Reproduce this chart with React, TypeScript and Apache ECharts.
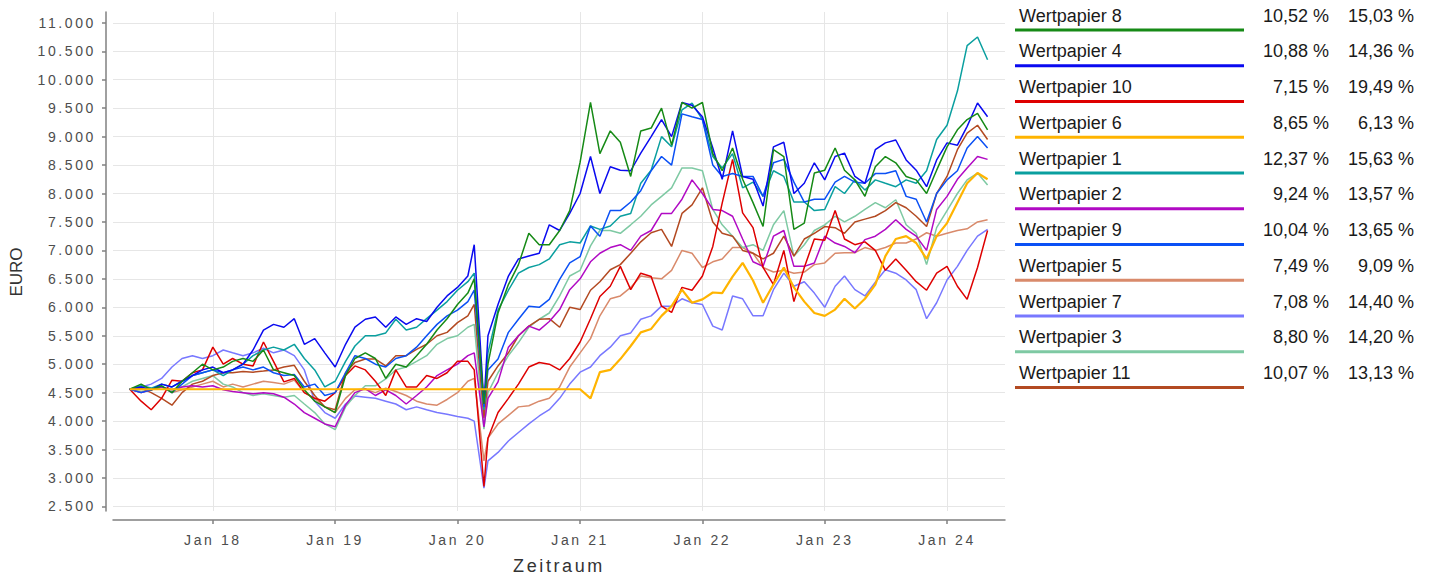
import React, { useEffect, useRef } from "react";
import * as echarts from "echarts";

// ---------- data ----------
const DATES = [
  "2017-04-28", "2017-06-01", "2017-07-01", "2017-08-01", "2017-09-01", "2017-10-01", "2017-11-01", "2017-12-01",
  "2018-01-01", "2018-02-01", "2018-03-01", "2018-04-01", "2018-05-01", "2018-06-01", "2018-07-01", "2018-08-01", "2018-09-01", "2018-10-01", "2018-11-01", "2018-12-01",
  "2019-01-01", "2019-02-01", "2019-03-01", "2019-04-01", "2019-05-01", "2019-06-01", "2019-07-01", "2019-08-01", "2019-09-01", "2019-10-01", "2019-11-01", "2019-12-01",
  "2020-01-01", "2020-02-01", "2020-02-20", "2020-03-20", "2020-04-01", "2020-05-01", "2020-06-01", "2020-07-01", "2020-08-01", "2020-09-01", "2020-10-01", "2020-11-01", "2020-12-01",
  "2021-01-01", "2021-02-01", "2021-03-01", "2021-04-01", "2021-05-01", "2021-06-01", "2021-07-01", "2021-08-01", "2021-09-01", "2021-10-01", "2021-11-01", "2021-12-01",
  "2022-01-01", "2022-02-01", "2022-03-01", "2022-04-01", "2022-05-01", "2022-06-01", "2022-07-01", "2022-08-01", "2022-09-01", "2022-10-01", "2022-11-01", "2022-12-01",
  "2023-01-01", "2023-02-01", "2023-03-01", "2023-04-01", "2023-05-01", "2023-06-01", "2023-07-01", "2023-08-01", "2023-09-01", "2023-10-01", "2023-11-01", "2023-12-01",
  "2024-01-01", "2024-02-01", "2024-03-01", "2024-04-01", "2024-05-01",
];

const W1 = [
  4560, 4620, 4580, 4650, 4600, 4700, 4800, 4850,
  4900, 4800, 4900, 5000, 5150, 5250, 5300, 5250, 5350, 5100, 4900, 4600,
  4700, 5050, 5320, 5500, 5500, 5550, 5790, 5600, 5650, 5800, 5950, 6100,
  6300, 6450, 6600, 4200, 5200, 5950, 6300, 6600, 6700, 6750, 6850, 7100, 7150,
  7130, 7430, 7370, 7430, 7600, 7650, 8180, 8410, 9000, 8820, 9470, 9590,
  9300, 8650, 8450, 8700, 8100, 8200, 7950, 8400, 8300, 7850, 7850, 7700,
  7720, 8120, 8000, 8240, 8060, 8240, 8180, 8120, 8240, 8180, 8400, 8950,
  9200, 9800, 10600, 10750, 10350,
];
const W2 = [
  4560, 4500, 4550, 4600, 4550, 4600, 4620, 4600,
  4620, 4550, 4520, 4500, 4480, 4500, 4480, 4420, 4300, 4150, 4050, 3950,
  3900, 4280, 4500, 4570, 4450, 4550, 4450, 4300, 4450, 4600, 4800, 4900,
  5000, 5150, 5200, 3900, 4400, 4690, 5300, 5500, 5670, 5600, 5750, 5960, 6310,
  6500, 6800, 6950, 7050, 7100, 7000, 7250, 7350, 7650, 7650, 7900, 8240,
  8000, 7720, 7700, 7600, 7200, 6800, 6720, 7250, 7350, 6720, 6720, 6780,
  7250, 7130, 7070, 6960, 7190, 7250, 7370, 7540, 7370, 7250, 7000, 7720,
  7950, 8250, 8450, 8650, 8600,
];
const W3 = [
  4560, 4520, 4550, 4600, 4550, 4600, 4700, 4750,
  4800, 4650, 4600, 4500, 4450, 4480, 4450, 4420, 4450, 4300, 4150, 3950,
  3850, 4250, 4450, 4620, 4620, 4740, 4900, 4950, 5050, 5150, 5350, 5450,
  5500, 5650, 5700, 3860, 4500, 4850, 5150, 5380, 5650, 5790, 5900, 6200, 6550,
  6650, 7080, 7350, 7350, 7300, 7450, 7600, 7800, 7950, 8100, 8450, 8450,
  8400, 7720, 7450, 7250, 7050, 7100, 7000, 7450, 7700, 6900, 7100, 7350,
  7450, 7600, 7500, 7600, 7720, 7840, 7750, 7890, 7450, 7300, 6750, 7400,
  7700, 8000, 8240, 8360, 8150,
];
const W4 = [
  4560, 4600, 4550, 4650, 4600, 4700, 4800, 4900,
  4950, 4850, 4900, 5000, 5250, 5600, 5700, 5650, 5800, 5350, 5450, 5200,
  4950, 5350, 5650, 5790, 5830, 5650, 5830, 5700, 5800, 5750, 6000, 6200,
  6350, 6550, 7100, 4300, 5500, 6050, 6550, 6850, 6900, 6950, 7450, 7350, 7650,
  8000, 8650, 8000, 8470, 8410, 8400, 8710, 9000, 9300, 9000, 9600, 9550,
  9350, 8800, 8250, 9100, 8300, 8250, 7780, 8820, 8900, 8000, 8180, 8540,
  8240, 8650, 8710, 8300, 8180, 8770, 8890, 8940, 8590, 8410, 8120, 8590,
  8890, 8850, 9180, 9590, 9350,
];
const W5 = [
  4560, 4500, 4550, 4600, 4500, 4550, 4600, 4650,
  4700, 4600, 4650, 4600, 4650, 4700, 4680, 4650, 4720, 4500, 4400, 4250,
  4150, 4400, 4550, 4560, 4500, 4580, 4520, 4450, 4350, 4300, 4280, 4380,
  4500, 4700, 4750, 3300, 3700, 3950, 4100, 4250, 4270, 4350, 4400, 4600, 4950,
  5200, 5450, 5850, 6150, 6200, 6350, 6550, 6520, 6500, 6650, 7000, 6950,
  6700, 6800, 6850, 7050, 7050, 6950, 6700, 6620, 6650, 6600, 6620, 6750,
  6780, 6950, 6960, 6960, 7050, 7000, 7050, 7130, 7130, 7200, 7310, 7250,
  7300, 7350, 7380, 7500, 7540,
];
const W6 = [
  4560, 4560, 4560, 4560, 4560, 4560, 4560, 4560,
  4560, 4560, 4560, 4560, 4560, 4560, 4560, 4560, 4560, 4560, 4560, 4560,
  4560, 4560, 4560, 4560, 4560, 4560, 4560, 4560, 4560, 4560, 4560, 4560,
  4560, 4560, 4560, 4560, 4560, 4560, 4560, 4560, 4560, 4560, 4560, 4560, 4560,
  4560, 4400, 4860, 4900, 5090, 5320, 5560, 5620, 5850, 6020, 6310, 6080,
  6140, 6260, 6250, 6540, 6780, 6470, 6080, 6400, 6700, 6350, 6100, 5900,
  5850, 5960, 6150, 5980, 6150, 6400, 6900, 7200, 7250, 7130, 6850, 7250,
  7480, 7840, 8180, 8360, 8250,
];
const W7 = [
  4560, 4600, 4650, 4750, 4950, 5100, 5150, 5100,
  5150, 5250, 5200, 5150, 5200, 5280, 5200, 5250, 5150, 4900, 4350, 4150,
  4050, 4300, 4440, 4420, 4400, 4350, 4300, 4200, 4250, 4200, 4150, 4120,
  4080, 4050, 4000, 2820, 3300, 3450, 3650, 3800, 3950, 4090, 4200, 4400, 4650,
  4860, 4950, 5150, 5300, 5500, 5550, 5790, 5850, 6020, 6020, 6150, 6080,
  6050, 5670, 5600, 6200, 6150, 5850, 5850, 6310, 6600, 6370, 6450, 6250,
  6000, 6370, 6550, 6310, 6200, 6440, 6660, 6600, 6480, 6310, 5800, 6080,
  6480, 6720, 7000, 7250, 7370,
];
const W8 = [
  4560, 4650, 4550, 4620, 4500, 4700, 4850, 5000,
  4900, 4950, 5050, 5100, 5050, 5250, 4900, 4850, 4800, 4550, 4350, 4250,
  4150, 4800, 5100, 5200, 5100, 4750, 5000, 4950, 5150, 5350, 5600, 5800,
  6050, 6250, 6500, 4300, 5000, 5900, 6400, 6750, 7300, 7100, 7100, 7350, 7700,
  8550, 9600, 8700, 9100, 8900, 8300, 9100, 9150, 9500, 8850, 9600, 9500,
  9600, 8700, 8400, 8800, 8250, 7840, 7420, 8770, 8650, 7370, 7480, 8360,
  8410, 8800, 8410, 8240, 7950, 8470, 8650, 8540, 8300, 8240, 8000, 8410,
  8820, 9120, 9300, 9410, 9120,
];
const W9 = [
  4560, 4500, 4550, 4620, 4500, 4650, 4800, 4850,
  4900, 4850, 4900, 4950, 4900, 4950, 4850, 4800, 4820, 4600, 4650, 4450,
  4500, 4850, 5150, 5100, 5000, 4950, 5100, 5150, 5300, 5500, 5700, 5850,
  5950, 6100, 6300, 4250, 4900, 5090, 5560, 5790, 6020, 6000, 6140, 6490, 6780,
  6890, 7430, 7250, 7700, 7700, 7850, 8050, 8400, 8650, 8500, 9400, 9350,
  9300, 8500, 8300, 8350, 8300, 8300, 7950, 8540, 8600, 8200, 7850, 7900,
  7900, 8200, 8300, 8200, 8180, 8350, 8350, 8400, 7950, 7900, 7500, 8000,
  8240, 8400, 8800, 9000, 8800,
];
const W10 = [
  4560, 4350, 4200, 4400, 4720, 4700, 4850, 4900,
  5300, 5000, 5100, 5000, 4970, 5390, 5050, 4690, 4750, 4500, 4400, 4350,
  4500, 4800, 4970, 4900, 4700, 4450, 4900, 4600, 4600, 4800, 4750, 4850,
  5050, 5050, 4900, 2850, 3700, 4150, 4400, 4650, 4950, 5030, 5000, 4900, 5100,
  5390, 5800, 6190, 6370, 6720, 6310, 6600, 6540, 6020, 5910, 6350, 6300,
  6550, 7070, 7830, 8600, 7660, 7400, 6700, 6400, 7000, 6100, 6700, 7200,
  7180, 7700, 7200, 7100, 7150, 7000, 6650, 6850, 6650, 6450, 6300, 6600,
  6720, 6370, 6140, 6700, 7350,
];
const W11 = [
  4560, 4580, 4500, 4400, 4280, 4500, 4650, 4700,
  4800, 4850, 4850, 4870, 4860, 4880, 4900, 4950, 4980, 4700, 4450, 4250,
  4200, 4850, 5030, 5090, 5090, 4970, 5150, 5150, 5260, 5350, 5500, 5560,
  5730, 5850, 6050, 4050, 4700, 4970, 5200, 5500, 5670, 5790, 5800, 5650, 6000,
  5960, 6300, 6450, 6660, 6750, 6950, 7150, 7310, 7370, 7070, 7650, 7800,
  8100, 7500, 7300, 7250, 7000, 6950, 6850, 6950, 7250, 6900, 7200, 7300,
  7420, 7400, 7300, 7500, 7550, 7600, 7700, 7840, 7750, 7600, 7420, 8000,
  8300, 8770, 9060, 9200, 8950,
];

// legend table (in displayed order)
const LEGEND_NAMES = [
  "Wertpapier 8", "Wertpapier 4", "Wertpapier 10", "Wertpapier 6", "Wertpapier 1", "Wertpapier 2",
  "Wertpapier 9", "Wertpapier 5", "Wertpapier 7", "Wertpapier 3", "Wertpapier 11",
];
const LEGEND_RETURN = ["10,52 %", "10,88 %", "7,15 %", "8,65 %", "12,37 %", "9,24 %", "10,04 %", "7,49 %", "7,08 %", "8,80 %", "10,07 %"];
const LEGEND_VOL = ["15,03 %", "14,36 %", "19,49 %", "6,13 %", "15,63 %", "13,57 %", "13,65 %", "9,09 %", "14,40 %", "14,20 %", "13,13 %"];

const Y_TICKS = [2500, 3000, 3500, 4000, 4500, 5000, 5500, 6000, 6500, 7000, 7500, 8000, 8500, 9000, 9500, 10000, 10500, 11000];
const X_TICK_DATES = ["2018-01-01", "2019-01-01", "2020-01-01", "2021-01-01", "2022-01-01", "2023-01-01", "2024-01-01"];
const X_MIN_DATE = "2017-03-09";
const X_MAX_DATE = "2024-06-22";

const SERIES_VALUES: Record<string, number[]> = {
  "Wertpapier 1": W1, "Wertpapier 2": W2, "Wertpapier 3": W3, "Wertpapier 4": W4,
  "Wertpapier 5": W5, "Wertpapier 6": W6, "Wertpapier 7": W7, "Wertpapier 8": W8,
  "Wertpapier 9": W9, "Wertpapier 10": W10, "Wertpapier 11": W11,
};
const COLORS: Record<string, string> = {
  "Wertpapier 8": "#168a16",
  "Wertpapier 4": "#0a0af0",
  "Wertpapier 10": "#de0000",
  "Wertpapier 6": "#ffb400",
  "Wertpapier 1": "#0a9f9f",
  "Wertpapier 2": "#b10ac4",
  "Wertpapier 9": "#0a50f5",
  "Wertpapier 5": "#d98a6b",
  "Wertpapier 7": "#7878ff",
  "Wertpapier 3": "#7ec9a3",
  "Wertpapier 11": "#b34a22",
};
const DRAW_ORDER = [
  "Wertpapier 5", "Wertpapier 7", "Wertpapier 3", "Wertpapier 11", "Wertpapier 2", "Wertpapier 10",
  "Wertpapier 1", "Wertpapier 9", "Wertpapier 4", "Wertpapier 8", "Wertpapier 6",
];

const FONT_SPACED = "Liberation Sans, sans-serif";
const FONT_PLAIN = "Liberation Sans, Arial";

const toTs = (s: string) => {
  const [y, m, d] = s.split("-").map(Number);
  return Date.UTC(y, m - 1, d);
};
const fmtThousands = (v: number) => String(Math.round(v)).replace(/\B(?=(\d{3})+(?!\d))/g, ".");

export default function App() {
  const ref = useRef<HTMLDivElement>(null);

  useEffect(() => {
    document.body.style.margin = "0";
    const chart = echarts.init(ref.current!, null, { renderer: "svg" });

    const xTicks = X_TICK_DATES.map(toTs);
    const dateTs = DATES.map(toTs);

    const series = DRAW_ORDER.map((name) => ({
      name,
      type: "line",
      showSymbol: false,
      symbol: "none",
      data: dateTs.map((t, i) => [t, SERIES_VALUES[name][i]]),
      lineStyle: { width: name === "Wertpapier 6" ? 2.2 : 1.5, color: COLORS[name] },
      itemStyle: { color: COLORS[name] },
      emphasis: { disabled: true },
    }));

    const graphics: any[] = [];
    LEGEND_NAMES.forEach((name, k) => {
      const cy = 15.7 + 35.75 * k;
      const ly = 30 + 35.75 * k;
      graphics.push({
        type: "text",
        style: { text: name, x: 1019, y: cy, fill: "#1a1a1a", fontSize: 18, fontFamily: FONT_PLAIN, textAlign: "left", textVerticalAlign: "middle" },
      });
      graphics.push({
        type: "text",
        style: { text: LEGEND_RETURN[k], x: 1329, y: cy, fill: "#1a1a1a", fontSize: 18, fontFamily: FONT_PLAIN, textAlign: "right", textVerticalAlign: "middle" },
      });
      graphics.push({
        type: "text",
        style: { text: LEGEND_VOL[k], x: 1414, y: cy, fill: "#1a1a1a", fontSize: 18, fontFamily: FONT_PLAIN, textAlign: "right", textVerticalAlign: "middle" },
      });
      graphics.push({
        type: "line",
        shape: { x1: 1015, y1: ly, x2: 1244, y2: ly },
        style: { stroke: COLORS[name], lineWidth: 3 },
      });
    });
    // y axis title, rotated
    graphics.push({
      type: "text",
      x: 16,
      y: 272,
      rotation: Math.PI / 2,
      style: { text: "EURO", fill: "#333333", fontSize: 17, fontFamily: FONT_PLAIN, textAlign: "center", textVerticalAlign: "middle" },
    });

    chart.setOption({
      animation: false,
      grid: { left: 113, right: 427, top: 12, bottom: 68, containLabel: false },
      xAxis: {
        type: "value",
        min: toTs(X_MIN_DATE),
        max: toTs(X_MAX_DATE),
        offset: 9,
        axisLine: { show: true, lineStyle: { color: "#808080", width: 1.5 } },
        axisTick: { show: true, length: 4, lineStyle: { color: "#808080", width: 1.5 }, customValues: xTicks },
        axisLabel: {
          customValues: xTicks,
          formatter: (v: number) => "Jan " + String(new Date(v).getUTCFullYear()).slice(2),
          color: "#4d4d4d",
          fontSize: 14,
          fontFamily: FONT_SPACED,
          margin: 13,
        },
        splitLine: { show: true, lineStyle: { color: "#e6e6e6", width: 1 } },
        name: "Zeitraum",
        nameLocation: "middle",
        nameGap: 37,
        nameTextStyle: { fontSize: 18, color: "#333333", fontFamily: FONT_SPACED },
      },
      yAxis: {
        type: "value",
        min: 2420,
        max: 11190,
        offset: 7,
        axisLine: { show: true, lineStyle: { color: "#808080", width: 1.5 } },
        axisTick: { show: true, length: 4, lineStyle: { color: "#808080", width: 1.5 }, customValues: Y_TICKS },
        axisLabel: {
          customValues: Y_TICKS,
          formatter: (v: number) => fmtThousands(v),
          color: "#4d4d4d",
          fontSize: 14,
          fontFamily: FONT_SPACED,
          margin: 10,
        },
        splitLine: { show: true, lineStyle: { color: "#e6e6e6", width: 1 } },
      },
      series,
      graphic: graphics,
    });

    return () => chart.dispose();
  }, []);

  return (
    <>
      <style>{`.wp-chart text[style*="sans-serif"]{letter-spacing:2.6px;}`}</style>
      <div ref={ref} className="wp-chart" style={{ width: 1432, height: 580 }} />
    </>
  );
}
